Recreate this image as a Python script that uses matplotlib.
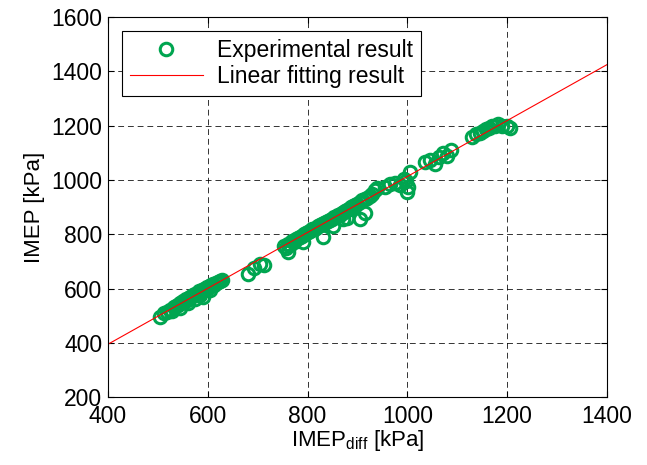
import matplotlib
matplotlib.use("Agg")
import matplotlib.pyplot as plt

plt.rcParams['font.family'] = ['Liberation Sans', 'DejaVu Sans']
plt.rcParams['mathtext.fontset'] = 'custom'
plt.rcParams['mathtext.rm'] = 'Liberation Sans'

# ---------- data ----------
imep_diff = [
    505, 512, 518, 524, 528, 533, 537, 540, 544, 547, 550, 553, 556, 559, 562, 565, 568, 571,
    574, 577, 580, 583, 586, 589, 592, 595, 598, 601, 604, 607, 610, 613, 616, 620, 624, 628,
    545, 560, 575, 590, 605, 585,
    680, 692, 704, 712,
    752, 756, 760, 764, 768, 772, 776, 780, 784, 788, 792, 796, 800, 804, 808, 812, 816, 820,
    824, 828, 832, 836, 840, 844, 848, 852, 856, 860, 864, 868, 872, 876, 880, 884, 888, 892,
    896, 900, 905, 910, 915, 920, 925, 930, 936, 940, 760, 790, 830, 850, 880, 905, 915, 870,
    955, 965, 975, 985, 993, 998, 1002, 1006, 1000,
    1035, 1045, 1055, 1063, 1072, 1080, 1088,
    1130, 1138, 1146, 1152, 1158, 1164, 1170, 1176, 1182, 1190, 1200, 1206,
]
imep = [
    497, 510, 515, 520, 518, 532, 535, 540, 548, 545, 555, 550, 562, 558, 565, 570, 572, 575,
    580, 578, 585, 590, 588, 595, 598, 600, 605, 603, 610, 612, 615, 612, 620, 625, 628, 630,
    528, 548, 562, 568, 595, 575,
    655, 675, 690, 688,
    758, 748, 765, 760, 775, 770, 782, 785, 790, 792, 800, 805, 808, 812, 818, 820, 825, 832,
    835, 838, 842, 845, 850, 852, 858, 862, 865, 870, 872, 878, 882, 885, 890, 895, 900, 905,
    908, 912, 918, 925, 930, 935, 942, 950, 965, 972, 735, 772, 790, 830, 860, 855, 880, 855,
    975, 985, 990, 982, 1005, 995, 975, 1030, 955,
    1065, 1075, 1060, 1085, 1100, 1090, 1112,
    1160, 1168, 1175, 1182, 1188, 1192, 1198, 1200, 1205, 1200, 1198, 1190,
]
fit_x = [400, 1400]
fit_y = [395, 1425]

# ---------- plot ----------
fig = plt.figure(figsize=(6.47, 4.65), dpi=100)
ax = fig.add_axes([0.167, 0.146, 0.771, 0.817])

ax.plot(imep_diff, imep, 'o', mfc='none', mec='#00a550', ms=9, mew=2.2,
        label='Experimental result')
ax.plot(fit_x, fit_y, '-', color='red', lw=0.8, label='Linear fitting result')

ax.set_xlim(400, 1400)
ax.set_ylim(200, 1600)
ax.set_xticks(range(400, 1401, 200))
ax.set_yticks(range(200, 1601, 200))
ax.grid(True, color='black', linestyle=(0, (6, 4)), linewidth=0.7, alpha=0.8)
ax.tick_params(direction='in', top=True, right=True, labelsize=16.5, length=4)
ax.tick_params(axis='x', pad=6)
ax.tick_params(axis='y', pad=4)
for s in ax.spines.values():
    s.set_linewidth(0.8)

ax.set_xlabel('IMEP$_{\\mathrm{diff}}$ [kPa]', fontsize=16, labelpad=0)
ax.set_ylabel('IMEP [kPa]', fontsize=16, labelpad=5)

leg = ax.legend(loc='upper left', fontsize=16.5, fancybox=False, edgecolor='black',
                framealpha=1, handlelength=3.2, borderaxespad=0.6,
                labelspacing=0.15, borderpad=0.35, handletextpad=0.6)
leg.get_frame().set_linewidth(0.8)

fig.savefig('out.png', dpi=100)
